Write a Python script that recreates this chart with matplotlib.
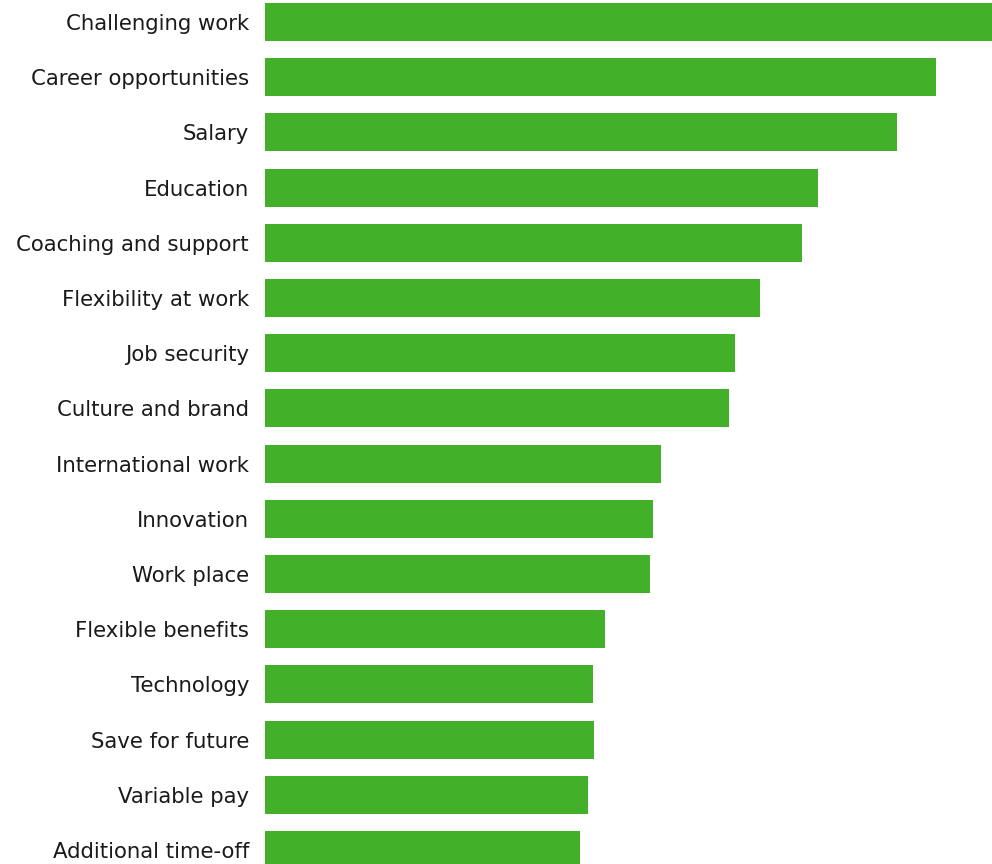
import matplotlib
matplotlib.use("Agg")
import matplotlib.pyplot as plt

categories = ["Challenging work", "Career opportunities", "Salary", "Education",
              "Coaching and support", "Flexibility at work", "Job security",
              "Culture and brand", "International work", "Innovation", "Work place",
              "Flexible benefits", "Technology", "Save for future", "Variable pay",
              "Additional time-off"]
values = [100.0, 92.3, 86.9, 76.1, 73.9, 68.1, 64.6, 63.8, 54.5, 53.4, 53.0,
          46.8, 45.1, 45.3, 44.4, 43.3]

W, H = 992, 864
fig = plt.figure(figsize=(W / 100, H / 100), dpi=100)
left = 265 / W
ax = fig.add_axes([left, 0, 1 - left, 1])
pos = list(range(len(categories)))
ax.barh(pos, values, height=0.69, color="#43B02A")
ax.set_xlim(0, max(values))
pitch = 55.25
ax.set_ylim(15 + (H - 850) / pitch, -22 / pitch)
ax.set_yticks(pos)
ax.set_yticklabels(categories, fontsize=15.3, color="#1a1a1a", family="DejaVu Sans")
ax.tick_params(axis="y", length=0, pad=11.5)
ax.set_xticks([])
for s in ax.spines.values():
    s.set_visible(False)
fig.savefig("out.png", dpi=100)
